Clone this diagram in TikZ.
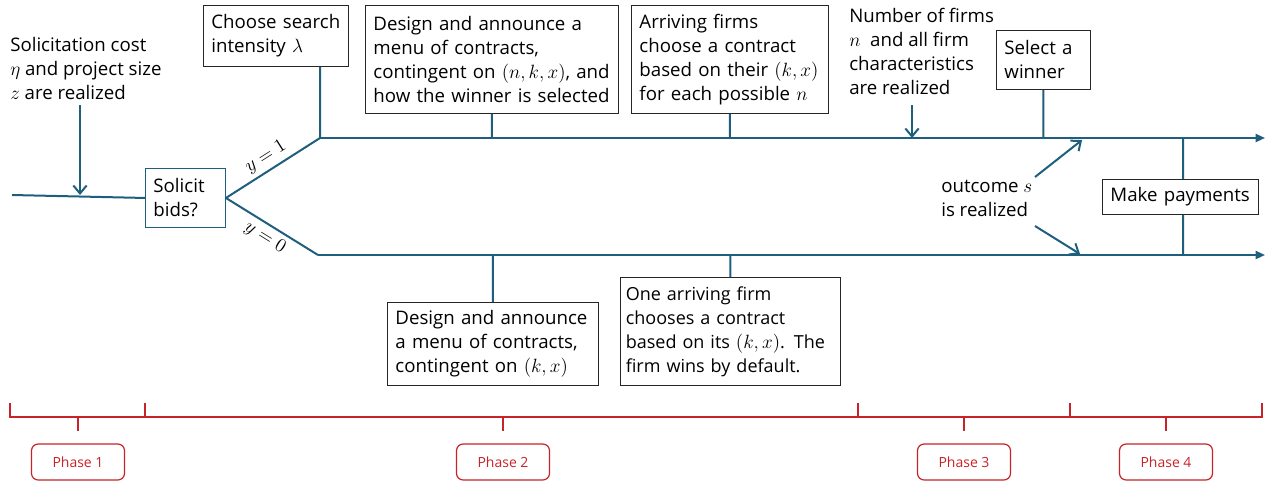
\documentclass[tikz,border=0pt]{standalone}
\usepackage{fontspec}
\setmainfont{Open Sans}
\usetikzlibrary{arrows.meta}
\definecolor{flow}{RGB}{30,95,125}
\definecolor{phasered}{RGB}{200,35,40}
\begin{document}
\begin{tikzpicture}[x=0.75pt,y=-0.75pt,
        font=\fontsize{14}{18}\selectfont,
        box/.style={draw=black!85,line width=0.7pt,align=left,anchor=north west,
          inner xsep=6pt,inner ysep=3pt,text width=#1},
        txt/.style={align=left,anchor=north west,inner sep=0pt},
        flowline/.style={draw=flow,line width=1.5pt},
        flowarrow/.style={flowline,-{Triangle[length=7pt,width=6pt]}},
        barb/.style={flowline,-{Straight Barb[length=6pt,width=10pt]}},
        bracket/.style={draw=phasered,line width=1.1pt},
        phasebox/.style={draw=phasered,text=phasered,line width=0.9pt,rounded corners=5pt,
          minimum width=69.75pt,minimum height=27pt,inner sep=0pt,
          font=\fontsize{10.5}{12}\selectfont}]
        \useasboundingbox (0,0) rectangle (1266,482);
        \draw (10,37) node[txt](realize1){Solicitation cost\\ $\eta$ and project size\\ $z$ are realized};
        \draw (145,168) node[box=48pt,draw=flow,minimum height=44.25pt](solicit){Solicit\\ bids?};
        \draw (203,5) node[box=96.75pt,minimum height=45.75pt](choose){Choose search\\ intensity $\lambda$};
        \draw (365,5) node[box=177.75pt,minimum height=81pt](design1){Design and announce a\\ menu of contracts,\\ contingent on $(n,k,x)$, and\\ how the winner is selected};
        \draw (631,5) node[box=135.75pt,minimum height=81pt](arriving){Arriving firms\\ choose a contract\\ based on their $(k,x)$\\ for each possible $n$};
        \draw (849,8) node[txt](realize2){Number of firms\\ $n$~ and all firm\\ characteristics\\ are realized};
        \draw (996,30) node[box=58.5pt,minimum height=44.25pt](select){Select a\\ winner};
        \draw (941,180) node[txt](outcome){outcome $s$\\ is realized};
        \draw (1102,179) node[box=105pt,minimum height=26.25pt](payments){Make payments};
        \draw (387,302) node[box=146.25pt,minimum height=62.25pt](design0){Design and announce\\ a menu of contracts,\\ contingent on $(k,x)$};
        \draw (620,277) node[box=157pt,inner xsep=4pt,minimum height=81pt,
          font=\fontsize{13.5}{18}\selectfont](onefirm){One arriving firm\\ chooses a contract\\ based on its $(k,x)$. The\\ firm wins by default.};
        \coordinate (start) at (12,195);
        \coordinate (top1) at (320,138);
        \coordinate (top2) at (1265,138);
        \coordinate (bot1) at (318,255);
        \coordinate (bot2) at (1265,255);
        \coordinate (pay) at (1183,138);
        \coordinate (etaarrow) at (80,105);
        \coordinate (narrow) at (912,105);
        \coordinate (out1) at (1035,177);
        \coordinate (out2) at (1035,226);
        \draw[flowline]
          (start) -- (solicit.west)
          (solicit.east) -- node[sloped,above,inner sep=3pt]{$y=1$} (top1)
          (solicit.east) -- node[sloped,below,inner sep=3pt]{$y=0$} (bot1)
          (choose.south -| top1) -- (top1)
          (design1.south) -- (design1.south |- top1)
          (arriving.south) -- (arriving.south |- top1)
          (select.south) -- (select.south |- top1)
          (design0.north) -- (design0.north |- bot1)
          (onefirm.north) -- (onefirm.north |- bot1)
          (pay) -- (payments.north -| pay)
          (payments.south -| pay) -- (pay |- bot1)
        ;
        \draw[flowarrow] (top1) -- (top2);
        \draw[flowarrow] (bot1) -- (bot2);
        \draw[barb] (etaarrow) -- (etaarrow |- start);
        \draw[barb] (narrow) -- (narrow |- top1);
        \draw[barb] (out1) -- (1082,140);
        \draw[barb] (out2) -- (1080,254);
        \draw[bracket] (10,403) -- (10,417) -- (1262,417) -- (1262,403);
        \foreach \x in {145,858,1070}
          \draw[bracket] (\x,403) -- (\x,417);
        \foreach \x/\n in {78/1,503/2,964/3,1166/4}{
          \draw[bracket] (\x,417) -- (\x,431);
          \node[phasebox] (phase\n) at (\x,462) {Phase \n};
        }
      \end{tikzpicture}
\end{document}
